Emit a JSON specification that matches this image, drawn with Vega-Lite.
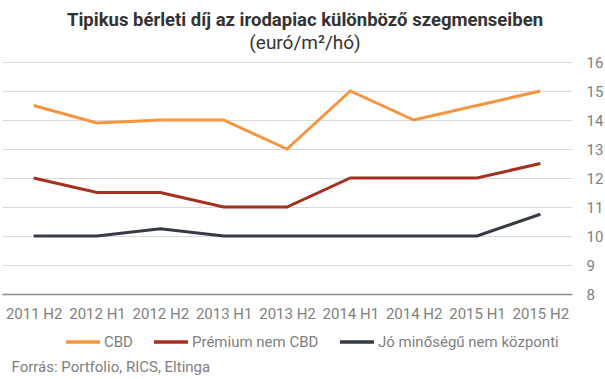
{
  "$schema": "https://vega.github.io/schema/vega-lite/v6.json",
  "autosize": "none",
  "width": 570,
  "height": 232,
  "padding": {"left": 2, "top": 62, "right": 33, "bottom": 85},
  "background": "white",
  "title": {
    "text": "Tipikus bérleti díj az irodapiac különböző szegmenseiben",
    "subtitle": "(euró/m²/hó)",
    "anchor": "middle",
    "dx": 18,
    "offset": 2,
    "font": "Roboto",
    "fontSize": 18.5,
    "fontWeight": "bold",
    "color": "#333333",
    "subtitleFont": "Roboto",
    "subtitleFontSize": 19,
    "subtitleColor": "#333333",
    "subtitlePadding": 5
  },
  "config": {
    "view": {"stroke": null},
    "font": "Roboto"
  },
  "data": {
    "values": [
      {"period": "2011 H2", "series": "CBD", "value": 14.5},
      {"period": "2012 H1", "series": "CBD", "value": 13.9},
      {"period": "2012 H2", "series": "CBD", "value": 14.0},
      {"period": "2013 H1", "series": "CBD", "value": 14.0},
      {"period": "2013 H2", "series": "CBD", "value": 13.0},
      {"period": "2014 H1", "series": "CBD", "value": 15.0},
      {"period": "2014 H2", "series": "CBD", "value": 14.0},
      {"period": "2015 H1", "series": "CBD", "value": 14.5},
      {"period": "2015 H2", "series": "CBD", "value": 15.0},
      {"period": "2011 H2", "series": "Prémium nem CBD", "value": 12.0},
      {"period": "2012 H1", "series": "Prémium nem CBD", "value": 11.5},
      {"period": "2012 H2", "series": "Prémium nem CBD", "value": 11.5},
      {"period": "2013 H1", "series": "Prémium nem CBD", "value": 11.0},
      {"period": "2013 H2", "series": "Prémium nem CBD", "value": 11.0},
      {"period": "2014 H1", "series": "Prémium nem CBD", "value": 12.0},
      {"period": "2014 H2", "series": "Prémium nem CBD", "value": 12.0},
      {"period": "2015 H1", "series": "Prémium nem CBD", "value": 12.0},
      {"period": "2015 H2", "series": "Prémium nem CBD", "value": 12.5},
      {"period": "2011 H2", "series": "Jó minőségű nem központi", "value": 10.0},
      {"period": "2012 H1", "series": "Jó minőségű nem központi", "value": 10.0},
      {"period": "2012 H2", "series": "Jó minőségű nem központi", "value": 10.25},
      {"period": "2013 H1", "series": "Jó minőségű nem központi", "value": 10.0},
      {"period": "2013 H2", "series": "Jó minőségű nem központi", "value": 10.0},
      {"period": "2014 H1", "series": "Jó minőségű nem központi", "value": 10.0},
      {"period": "2014 H2", "series": "Jó minőségű nem központi", "value": 10.0},
      {"period": "2015 H1", "series": "Jó minőségű nem központi", "value": 10.0},
      {"period": "2015 H2", "series": "Jó minőségű nem központi", "value": 10.75}
    ]
  },
  "mark": {"type": "line", "strokeWidth": 3, "strokeJoin": "miter"},
  "encoding": {
    "x": {
      "field": "period",
      "type": "ordinal",
      "sort": null,
      "scale": {"type": "point", "padding": 0.5},
      "axis": {
        "orient": "bottom",
        "labelAngle": 0,
        "domain": true,
        "domainColor": "#8c8c8c",
        "domainWidth": 1.5,
        "ticks": false,
        "grid": false,
        "labelPadding": 12,
        "labelFontSize": 15,
        "labelColor": "#7f7f7f",
        "labelFont": "Roboto",
        "title": "Forrás: Portfolio, RICS, Eltinga",
        "titleAnchor": "start",
        "titleAlign": "left",
        "titleBaseline": "middle",
        "titleX": 9,
        "titleY": 72,
        "titleFont": "Roboto",
        "titleFontSize": 15,
        "titleFontWeight": "normal",
        "titleColor": "#7f7f7f"
      }
    },
    "y": {
      "field": "value",
      "type": "quantitative",
      "scale": {"domain": [8, 16], "nice": false, "zero": false},
      "axis": {
        "orient": "right",
        "values": [8, 9, 10, 11, 12, 13, 14, 15, 16],
        "domain": false,
        "ticks": false,
        "grid": true,
        "gridColor": "#d9d9d9",
        "gridWidth": 1,
        "labelPadding": 14,
        "labelFontSize": 15,
        "labelColor": "#7f7f7f",
        "labelFont": "Roboto",
        "title": null
      }
    },
    "color": {
      "field": "series",
      "type": "nominal",
      "scale": {
        "domain": ["CBD", "Prémium nem CBD", "Jó minőségű nem központi"],
        "range": ["#f5963f", "#a4301f", "#353a44"]
      },
      "legend": {
        "orient": "none",
        "legendX": 62,
        "legendY": 261,
        "direction": "horizontal",
        "title": null,
        "symbolType": "stroke",
        "symbolSize": 1150,
        "symbolStrokeWidth": 3.5,
        "labelOffset": 2,
        "columnPadding": 14,
        "labelLimit": 300,
        "labelFontSize": 15,
        "labelColor": "#7f7f7f",
        "labelFont": "Roboto"
      }
    }
  }
}
